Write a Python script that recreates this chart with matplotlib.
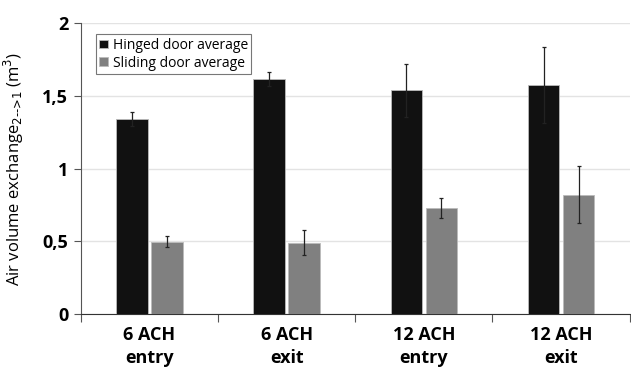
import numpy as np
import matplotlib
matplotlib.use("Agg")
import matplotlib.pyplot as plt

plt.rcParams['font.family'] = ['Open Sans', 'DejaVu Sans']

categories = ["6 ACH\nentry", "6 ACH\nexit", "12 ACH\nentry", "12 ACH\nexit"]
hinged = [1.34, 1.615, 1.537, 1.575]
hinged_err = [0.05, 0.05, 0.183, 0.26]
sliding = [0.495, 0.49, 0.728, 0.82]
sliding_err = [0.038, 0.087, 0.071, 0.197]
yticks = [0, 0.5, 1, 1.5, 2]
ytick_labels = ["0", "0,5", "1", "1,5", "2"]

fig = plt.figure(figsize=(6.31, 3.72), dpi=100)
ax = fig.add_axes([0.128, 0.156, 0.87, 0.782])

x = np.arange(len(categories))
w = 0.23
off = 0.128
ax.bar(x - off, hinged, w, yerr=hinged_err, color="#111111", edgecolor="#bbbbbb",
       linewidth=0.6, error_kw=dict(elinewidth=0.9, capsize=1.5, capthick=0.9, ecolor="#222222"),
       label="Hinged door average", zorder=3)
ax.bar(x + off, sliding, w, yerr=sliding_err, color="#808080", edgecolor="#bbbbbb",
       linewidth=0.6, error_kw=dict(elinewidth=0.9, capsize=1.5, capthick=0.9, ecolor="#222222"),
       label="Sliding door average", zorder=3)

ax.set_xlim(-0.5, len(categories) - 0.5)
ax.set_ylim(0, 2)
ax.set_yticks(yticks)
ax.set_yticklabels(ytick_labels, fontsize=13, fontweight="bold")
ax.yaxis.grid(True, color="#e3e3e3", linewidth=1, zorder=0)
ax.set_axisbelow(True)

ax.set_xticks(x)
ax.set_xticklabels(categories, fontsize=13, fontweight="bold", linespacing=1.3)
ax.tick_params(axis="x", length=0, pad=9)
ax.set_xticks(np.arange(len(categories) + 1) - 0.5, minor=True)
ax.tick_params(axis="x", which="minor", length=6, width=0.8, color="#555555")
ax.tick_params(axis="y", length=5, width=0.8, color="#555555", pad=4)

for s in ["top", "right"]:
    ax.spines[s].set_visible(False)
ax.spines["left"].set_color("#555555")
ax.spines["bottom"].set_color("#333333")

ax.set_ylabel("Air volume exchange$_{2\\text{-->}1}$ (m$^3$)", fontsize=12)
ax.yaxis.set_label_coords(-0.1, 0.5)

leg = ax.legend(loc="upper left", bbox_to_anchor=(0.015, 0.985), fontsize=10,
                frameon=True, fancybox=False, edgecolor="#555555", handlelength=0.6,
                handleheight=0.6, handletextpad=0.35, borderpad=0.25, labelspacing=0.2)
leg.get_frame().set_linewidth(0.8)

fig.savefig("out.png", dpi=100)
